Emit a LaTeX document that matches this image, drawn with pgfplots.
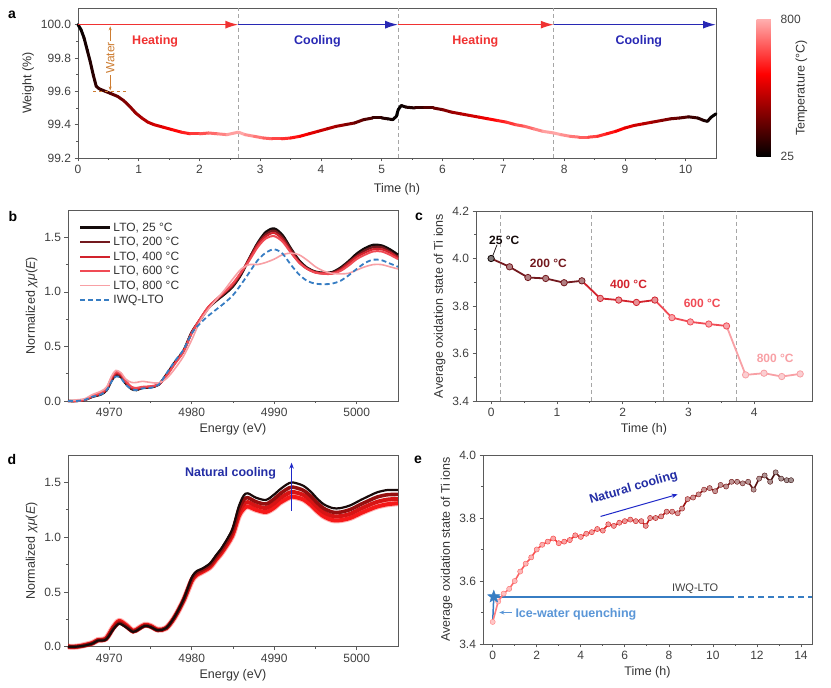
\documentclass[border=0pt]{standalone}
\usepackage{fontspec}
\setmainfont{Liberation Sans}
\usepackage{pgfplots}
\pgfplotsset{compat=1.18}
\usepackage{pgfplotstable}
\usetikzlibrary{arrows.meta}

\definecolor{axgray}{RGB}{90,90,90}
\definecolor{heatred}{RGB}{240,50,50}
\definecolor{coolblue}{RGB}{40,40,180}
\definecolor{waterc}{RGB}{205,125,50}
\definecolor{k25}{RGB}{20,10,10}
\definecolor{k200}{RGB}{115,25,30}
\definecolor{k400}{RGB}{210,35,45}
\definecolor{k600}{RGB}{240,75,85}
\definecolor{k800}{RGB}{248,160,165}
\definecolor{iwq}{RGB}{55,125,195}
\definecolor{navyc}{RGB}{35,45,165}
\definecolor{arrblue}{RGB}{30,40,200}
\definecolor{lblue}{RGB}{90,150,215}
\definecolor{dred1}{RGB}{245,25,25}
\definecolor{dred2}{RGB}{215,20,20}
\definecolor{dred3}{RGB}{150,15,15}
\definecolor{dk}{RGB}{25,10,10}

\pgfdeclareplotmark{fstar}{%
  \pgfpathmoveto{\pgfpointpolar{90}{\pgfplotmarksize}}%
  \pgfpathlineto{\pgfpointpolar{126}{0.42*\pgfplotmarksize}}%
  \pgfpathlineto{\pgfpointpolar{162}{\pgfplotmarksize}}%
  \pgfpathlineto{\pgfpointpolar{198}{0.42*\pgfplotmarksize}}%
  \pgfpathlineto{\pgfpointpolar{234}{\pgfplotmarksize}}%
  \pgfpathlineto{\pgfpointpolar{270}{0.42*\pgfplotmarksize}}%
  \pgfpathlineto{\pgfpointpolar{306}{\pgfplotmarksize}}%
  \pgfpathlineto{\pgfpointpolar{342}{0.42*\pgfplotmarksize}}%
  \pgfpathlineto{\pgfpointpolar{18}{\pgfplotmarksize}}%
  \pgfpathlineto{\pgfpointpolar{54}{0.42*\pgfplotmarksize}}%
  \pgfpathclose
  \pgfusepathqfillstroke
}

\pgfplotsset{
  panel/.style={
    scale only axis, clip=false,
    axis line style={axgray, line width=0.9pt},
    tick style={axgray, line width=0.7pt},
    tick align=outside, tick pos=left,
    major tick length=3.5pt, minor tick length=2pt,
    ticklabel style={font=\fontsize{12}{14}\selectfont, text=black!75},
    label style={font=\fontsize{12.5}{15}\selectfont, text=black!80},
    /pgf/number format/assume math mode=true,
    /pgf/number format/1000 sep={},
  },
  onedec/.style={yticklabel style={/pgf/number format/.cd, fixed, fixed zerofill, precision=1}},
}

\pgfplotstableread{
t w T
0.00 100.00 25
0.05 99.97 40
0.10 99.92 54
0.15 99.85 69
0.20 99.78 84
0.25 99.70 98
0.30 99.63 113
0.35 99.615 128
0.45 99.60 157
0.55 99.585 186
0.65 99.57 216
0.75 99.545 245
0.85 99.51 275
0.95 99.47 304
1.05 99.44 333
1.15 99.415 363
1.25 99.40 392
1.40 99.385 436
1.55 99.37 480
1.70 99.355 524
1.85 99.345 568
2.00 99.345 612
2.15 99.35 656
2.30 99.345 700
2.45 99.34 744
2.64 99.355 800
2.75 99.34 768
2.90 99.33 723
3.05 99.32 679
3.20 99.315 635
3.35 99.315 591
3.50 99.32 547
3.65 99.33 502
3.80 99.345 458
3.95 99.36 414
4.10 99.375 370
4.25 99.39 326
4.40 99.40 281
4.55 99.41 237
4.70 99.43 193
4.85 99.44 149
5.00 99.44 105
5.10 99.435 75
5.18 99.43 52
5.24 99.45 34
5.27 99.49 25
5.32 99.515 40
5.40 99.505 64
5.55 99.50 110
5.70 99.50 155
5.85 99.50 200
6.00 99.49 246
6.15 99.475 291
6.30 99.465 337
6.45 99.455 382
6.60 99.445 428
6.75 99.435 473
6.90 99.425 518
7.05 99.415 564
7.20 99.40 609
7.35 99.39 655
7.50 99.375 700
7.65 99.36 746
7.83 99.35 800
7.95 99.34 765
8.10 99.33 722
8.25 99.325 678
8.40 99.325 635
8.55 99.33 591
8.70 99.345 547
8.85 99.36 504
9.00 99.38 460
9.15 99.395 417
9.30 99.405 373
9.45 99.415 330
9.60 99.425 286
9.75 99.435 243
9.90 99.44 199
10.05 99.447 156
10.20 99.44 112
10.30 99.425 83
10.36 99.42 66
10.42 99.445 48
10.50 99.465 25
}\wdata

\pgfplotstableread{
E k25 k200 k400 k600 k800 iwq
4965 0.00 0.00 0.00 0.00 0.00 0.00
4966 0.00 0.00 0.00 0.00 0.01 0.00
4967 0.01 0.01 0.01 0.01 0.02 0.01
4968 0.04 0.04 0.045 0.05 0.06 0.04
4969 0.06 0.065 0.07 0.075 0.09 0.06
4969.7 0.10 0.105 0.11 0.12 0.13 0.10
4970.3 0.19 0.20 0.21 0.22 0.23 0.18
4970.8 0.235 0.245 0.255 0.265 0.28 0.225
4971.4 0.22 0.23 0.24 0.25 0.26 0.21
4972 0.16 0.17 0.175 0.185 0.20 0.15
4972.7 0.11 0.115 0.12 0.13 0.17 0.11
4973.3 0.10 0.105 0.11 0.12 0.17 0.10
4974 0.12 0.12 0.125 0.13 0.18 0.115
4975 0.125 0.13 0.13 0.135 0.17 0.12
4976 0.15 0.15 0.15 0.155 0.165 0.15
4977 0.25 0.245 0.24 0.235 0.21 0.26
4978 0.36 0.355 0.35 0.345 0.30 0.37
4979 0.46 0.46 0.455 0.45 0.41 0.47
4980 0.63 0.63 0.625 0.62 0.56 0.62
4981 0.74 0.745 0.75 0.75 0.73 0.71
4982 0.85 0.855 0.86 0.86 0.84 0.78
4983 0.92 0.925 0.93 0.935 0.93 0.84
4984 0.98 0.99 1.00 1.00 1.02 0.90
4985 1.05 1.06 1.07 1.08 1.12 0.97
4986 1.16 1.17 1.18 1.18 1.21 1.07
4987 1.31 1.31 1.30 1.29 1.25 1.18
4988 1.45 1.44 1.43 1.41 1.25 1.29
4989 1.55 1.53 1.51 1.49 1.27 1.36
4990 1.58 1.56 1.54 1.51 1.30 1.39
4991 1.52 1.50 1.48 1.46 1.34 1.35
4992 1.40 1.39 1.37 1.36 1.355 1.25
4993 1.29 1.28 1.27 1.27 1.34 1.16
4994 1.22 1.215 1.21 1.21 1.29 1.10
4995 1.185 1.18 1.18 1.175 1.23 1.075
4996 1.175 1.17 1.17 1.165 1.19 1.07
4997 1.18 1.175 1.17 1.165 1.17 1.075
4998 1.22 1.21 1.20 1.19 1.165 1.10
4999 1.28 1.27 1.26 1.24 1.17 1.15
5000 1.35 1.33 1.32 1.30 1.20 1.21
5001 1.40 1.38 1.36 1.34 1.23 1.265
5002 1.43 1.41 1.39 1.37 1.25 1.295
5003 1.425 1.41 1.39 1.37 1.25 1.29
5004 1.39 1.37 1.36 1.34 1.23 1.26
5005 1.34 1.32 1.31 1.30 1.21 1.23
}\bdata

\pgfplotstableread{
E r c2 c3 k
4965 0.00 0.00 0.00 0.00
4966 0.00 0.00 0.00 0.00
4967 0.015 0.012 0.01 0.01
4968 0.035 0.033 0.03 0.03
4968.6 0.06 0.058 0.056 0.055
4969.6 0.075 0.07 0.068 0.065
4970.5 0.18 0.175 0.165 0.16
4971.2 0.235 0.225 0.215 0.21
4972 0.20 0.19 0.185 0.18
4972.9 0.145 0.14 0.138 0.135
4973.6 0.17 0.165 0.162 0.16
4974.3 0.20 0.195 0.192 0.19
4975 0.19 0.185 0.182 0.18
4975.9 0.155 0.152 0.15 0.15
4976.9 0.17 0.17 0.17 0.17
4977.9 0.265 0.267 0.268 0.27
4979 0.42 0.423 0.427 0.43
4980 0.60 0.61 0.62 0.63
4980.6 0.655 0.667 0.678 0.69
4981.2 0.68 0.69 0.70 0.71
4982.2 0.725 0.737 0.748 0.76
4983 0.80 0.813 0.827 0.84
4983.7 0.865 0.88 0.895 0.91
4984.9 1.01 1.03 1.05 1.07
4985.7 1.19 1.22 1.25 1.28
4986.3 1.26 1.30 1.34 1.38
4986.8 1.28 1.32 1.36 1.40
4987.8 1.25 1.287 1.323 1.36
4989 1.23 1.267 1.303 1.34
4990 1.27 1.31 1.35 1.39
4990.6 1.31 1.35 1.39 1.43
4991.5 1.35 1.393 1.437 1.48
4992.2 1.37 1.413 1.457 1.50
4993.5 1.345 1.387 1.428 1.47
4994.5 1.29 1.33 1.37 1.41
4995.1 1.245 1.283 1.322 1.36
4996 1.19 1.227 1.263 1.30
4997.1 1.155 1.192 1.228 1.265
4998 1.155 1.192 1.228 1.265
4999.2 1.175 1.213 1.252 1.29
5000.5 1.22 1.26 1.30 1.34
5001.6 1.255 1.297 1.338 1.38
5002.5 1.28 1.323 1.367 1.41
5003.7 1.30 1.343 1.387 1.43
5005 1.31 1.35 1.39 1.43
}\ddata

\pgfplotstableread{
t y
0 3.47
0.25 3.535
0.5 3.56
0.75 3.575
1.0 3.60
1.25 3.63
1.5 3.655
1.75 3.675
2.0 3.70
2.25 3.715
2.5 3.725
2.75 3.735
3.0 3.72
3.25 3.725
3.5 3.73
3.75 3.745
4.0 3.74
4.25 3.75
4.5 3.755
4.75 3.765
5.0 3.76
5.25 3.78
5.5 3.775
5.75 3.785
6.0 3.79
6.25 3.795
6.5 3.79
6.75 3.79
6.95 3.775
7.15 3.80
7.4 3.80
7.65 3.805
7.9 3.82
8.15 3.82
8.4 3.815
8.6 3.83
8.85 3.86
9.1 3.865
9.35 3.875
9.6 3.89
9.85 3.895
10.1 3.885
10.35 3.905
10.6 3.90
10.85 3.915
11.1 3.915
11.35 3.91
11.6 3.915
11.85 3.89
12.1 3.925
12.35 3.935
12.6 3.915
12.85 3.945
13.1 3.925
13.35 3.92
13.55 3.92
}\edata

\begin{document}
\begin{tikzpicture}
\path[use as bounding box] (0pt,0pt) rectangle (831pt,688pt);

% ---------------- panel a ----------------
\begin{axis}[panel, at={(78pt,530pt)}, anchor=south west, width=638pt, height=150pt,
  xmin=0, xmax=10.5, ymin=99.2, ymax=100.1,
  xtick={0,1,2,3,4,5,6,7,8,9,10}, minor x tick num=1,
  ytick={99.2,99.4,99.6,99.8,100.0}, minor y tick num=1, onedec,
  xlabel={Time (h)}, ylabel={Weight (\%)},
  xlabel style={yshift=-3pt},
  colormap={tempmap}{rgb255(0cm)=(0,0,0); rgb255(6cm)=(255,0,0); rgb255(10cm)=(255,175,175)},
  point meta min=25, point meta max=800,
  colorbar,
  colorbar style={
    at={(parent axis.north east)}, anchor=north west, xshift=32pt, yshift=-11pt,
    scale only axis, width=20.6pt, height=137.7pt,
    ytick={25,800}, axis line style={draw=none}, major tick length=0pt,
    yticklabel style={font=\fontsize{12}{14}\selectfont, text=black!75},
    /pgf/number format/assume math mode=true,
    ylabel={Temperature (°C)},
    ylabel style={font=\fontsize{12.5}{15}\selectfont, text=black!80, yshift=12pt},
  },
]
\draw[gray!70, dashed, line width=0.8pt, dash pattern=on 4pt off 3pt] (axis cs:2.64,99.2) -- (axis cs:2.64,100.1);
\draw[gray!70, dashed, line width=0.8pt, dash pattern=on 4pt off 3pt] (axis cs:5.27,99.2) -- (axis cs:5.27,100.1);
\draw[gray!70, dashed, line width=0.8pt, dash pattern=on 4pt off 3pt] (axis cs:7.83,99.2) -- (axis cs:7.83,100.1);
\addplot[mesh, line width=3pt, line cap=round, point meta=\thisrow{T}] table[x=t, y=w] {\wdata};
\draw[heatred, line width=1.5pt, -{Latex[length=13pt,width=8pt]}] (axis cs:0,100) -- (axis cs:2.64,100);
\draw[coolblue, line width=1.5pt, -{Latex[length=13pt,width=8pt]}] (axis cs:2.64,100) -- (axis cs:5.27,100);
\draw[heatred, line width=1.5pt, -{Latex[length=13pt,width=8pt]}] (axis cs:5.27,100) -- (axis cs:7.83,100);
\draw[coolblue, line width=1.5pt, -{Latex[length=13pt,width=8pt]}] (axis cs:7.83,100) -- (axis cs:10.5,100);
\node[heatred, font=\bfseries\fontsize{12.5}{15}\selectfont] at (axis cs:1.27,99.9) {Heating};
\node[coolblue, font=\bfseries\fontsize{12.5}{15}\selectfont] at (axis cs:3.94,99.9) {Cooling};
\node[heatred, font=\bfseries\fontsize{12.5}{15}\selectfont] at (axis cs:6.54,99.9) {Heating};
\node[coolblue, font=\bfseries\fontsize{12.5}{15}\selectfont] at (axis cs:9.23,99.9) {Cooling};
\draw[waterc, line width=0.8pt, dashed] (axis cs:0.25,99.6) -- (axis cs:0.8,99.6);
\draw[waterc, line width=0.8pt, {Stealth[length=4pt]}-{Stealth[length=4pt]}] (axis cs:0.53,99.605) -- (axis cs:0.53,99.99);
\node[waterc, rotate=90, fill=white, inner sep=1pt, font=\fontsize{12}{14}\selectfont] at (axis cs:0.53,99.8) {Water};
\end{axis}

% ---------------- panel b ----------------
\begin{axis}[panel, at={(68pt,287pt)}, anchor=south west, width=330pt, height=191pt,
  xmin=4965, xmax=5005, ymin=0, ymax=1.75,
  xtick={4970,4980,4990,5000}, minor x tick num=1,
  ytick={0,0.5,1,1.5}, minor y tick num=1, onedec,
  xlabel={Energy (eV)}, ylabel={Normalized \textit{χμ}(\textit{E})},
  legend style={at={(0.03,0.95)}, anchor=north west, draw=none, fill=none,
    font=\fontsize{12}{13}\selectfont, text=black!80, row sep=0.6pt, inner sep=1pt},
  legend cell align=left,
  legend image code/.code={\draw[#1] (0pt,0pt) -- (30pt,0pt);},
]
\addplot[k25, line width=2.4pt, smooth] table[x=E, y=k25] {\bdata};
\addlegendentry{LTO, 25 °C}
\addplot[k200, line width=2.3pt, smooth] table[x=E, y=k200] {\bdata};
\addlegendentry{LTO, 200 °C}
\addplot[k400, line width=2.1pt, smooth] table[x=E, y=k400] {\bdata};
\addlegendentry{LTO, 400 °C}
\addplot[k600, line width=2pt, smooth] table[x=E, y=k600] {\bdata};
\addlegendentry{LTO, 600 °C}
\addplot[k800, line width=1.6pt, smooth] table[x=E, y=k800] {\bdata};
\addlegendentry{LTO, 800 °C}
\addplot[iwq, line width=1.8pt, dash pattern=on 5pt off 3pt, smooth] table[x=E, y=iwq] {\bdata};
\addlegendentry{IWQ-LTO}
\end{axis}

% ---------------- panel c ----------------
\begin{axis}[panel, at={(476pt,287pt)}, anchor=south west, width=336pt, height=190pt,
  xmin=-0.23, xmax=4.88, ymin=3.4, ymax=4.2,
  xtick={0,1,2,3,4}, minor x tick num=1,
  ytick={3.4,3.6,3.8,4.0,4.2}, minor y tick num=1, onedec,
  xlabel={Time (h)}, ylabel={Average oxidation state of Ti ions},
]
\foreach \xv in {0.137,1.52,2.62,3.73}{
  \edef\tmp{\noexpand\draw[gray!70, line width=0.8pt, dash pattern=on 4pt off 3pt] (axis cs:\xv,3.4) -- (axis cs:\xv,4.2);}\tmp
}
\addplot[k200, line width=1.8pt] coordinates {(0,4.0) (0.28,3.965) (0.56,3.92) (0.83,3.916) (1.11,3.898) (1.38,3.906)};
\addplot[k400, line width=1.8pt] coordinates {(1.38,3.906) (1.66,3.832) (1.94,3.825) (2.21,3.815) (2.49,3.825)};
\addplot[k600, line width=1.8pt] coordinates {(2.49,3.825) (2.75,3.751) (3.03,3.733) (3.31,3.724) (3.58,3.716)};
\addplot[k800, line width=1.8pt] coordinates {(3.58,3.716) (3.87,3.51) (4.15,3.517) (4.42,3.503) (4.70,3.514)};
\addplot[only marks, mark=*, mark size=3.2pt, mark options={draw=k25, fill=k25!55!white, line width=0.8pt}] coordinates {(0,4.0)};
\addplot[only marks, mark=*, mark size=3.2pt, mark options={draw=k200, fill=k200!55!white, line width=0.8pt}] coordinates {(0.28,3.965) (0.56,3.92) (0.83,3.916) (1.11,3.898) (1.38,3.906)};
\addplot[only marks, mark=*, mark size=3.2pt, mark options={draw=k400, fill=k400!50!white, line width=0.8pt}] coordinates {(1.66,3.832) (1.94,3.825) (2.21,3.815) (2.49,3.825)};
\addplot[only marks, mark=*, mark size=3.2pt, mark options={draw=k600, fill=k600!50!white, line width=0.8pt}] coordinates {(2.75,3.751) (3.03,3.733) (3.31,3.724) (3.58,3.716)};
\addplot[only marks, mark=*, mark size=3.2pt, mark options={draw=k800, fill=k800!50!white, line width=0.8pt}] coordinates {(3.87,3.51) (4.15,3.517) (4.42,3.503) (4.70,3.514)};
\draw[k25, line width=0.7pt] (axis cs:0.09,4.058) -- (axis cs:0.02,4.008);
\node[k25, font=\bfseries\fontsize{12}{14}\selectfont] at (axis cs:0.2,4.077) {25 °C};
\node[k200, font=\bfseries\fontsize{12}{14}\selectfont] at (axis cs:0.87,3.98) {200 °C};
\node[k400, font=\bfseries\fontsize{12}{14}\selectfont] at (axis cs:2.09,3.89) {400 °C};
\node[k600, font=\bfseries\fontsize{12}{14}\selectfont] at (axis cs:3.21,3.81) {600 °C};
\node[k800, font=\bfseries\fontsize{12}{14}\selectfont] at (axis cs:4.32,3.58) {800 °C};
\end{axis}

% ---------------- panel d ----------------
\begin{axis}[panel, at={(68pt,41.3pt)}, anchor=south west, width=330pt, height=191.7pt,
  xmin=4965, xmax=5005, ymin=0, ymax=1.75,
  xtick={4970,4980,4990,5000}, minor x tick num=1,
  ytick={0,0.5,1,1.5}, minor y tick num=1, onedec,
  xlabel={Energy (eV)}, ylabel={Normalized \textit{χμ}(\textit{E})},
]
\addplot[red, line width=6pt, opacity=0.3, smooth] table[x=E, y=r] {\ddata};
\addplot[dred1, line width=4pt, smooth] table[x=E, y=r] {\ddata};
\addplot[dred2, line width=4pt, smooth] table[x=E, y=c2] {\ddata};
\addplot[dred3, line width=3.6pt, smooth] table[x=E, y=c3] {\ddata};
\addplot[dk, line width=2.2pt, smooth] table[x=E, y=k] {\ddata};
\draw[arrblue, line width=1.1pt, -{Stealth[length=6pt,width=4.5pt]}] (axis cs:4992.1,1.24) -- (axis cs:4992.1,1.68);
\node[navyc, font=\bfseries\fontsize{12.5}{15}\selectfont] at (axis cs:4984.7,1.58) {Natural cooling};
\end{axis}

% ---------------- panel e ----------------
\begin{axis}[panel, at={(483pt,44pt)}, anchor=south west, width=329pt, height=189pt,
  xmin=-0.44, xmax=14.5, ymin=3.4, ymax=4.0,
  xtick={0,2,4,6,8,10,12,14}, minor x tick num=1,
  ytick={3.4,3.6,3.8,4.0}, minor y tick num=1, onedec,
  xlabel={Time (h)}, ylabel={Average oxidation state of Ti ions},
  colormap={emap}{rgb255(0cm)=(255,130,130); rgb255(3cm)=(245,50,50); rgb255(6cm)=(215,25,25); rgb255(9cm)=(150,20,20); rgb255(13.6cm)=(55,15,15)},
  point meta min=0, point meta max=13.6,
]
\addplot[iwq, line width=2pt] coordinates {(0.05,3.55) (10.7,3.55)};
\addplot[iwq, line width=2pt, dash pattern=on 6pt off 4pt] coordinates {(10.7,3.55) (14.5,3.55)};
\addplot[iwq, line width=1.5pt] coordinates {(0,3.47) (0.05,3.55)};
\addplot[mesh, line width=1.6pt, line cap=round, point meta=x] table[x=t, y=y] {\edata};
\addplot[scatter, only marks, mark=*, mark size=2.6pt, point meta=x,
  scatter/use mapped color={draw=mapped color, fill=mapped color!45!white}] table[x=t, y=y] {\edata};
\addplot[only marks, mark=fstar, mark size=6.5pt, mark options={fill=iwq, draw=iwq}] coordinates {(0.05,3.55)};
\node[black!75, font=\fontsize{11}{13}\selectfont] at (axis cs:9.19,3.577) {IWQ-LTO};
\draw[lblue, line width=1pt, -{Stealth[length=5pt,width=4pt]}] (axis cs:0.86,3.5) -- (axis cs:0.3,3.5);
\node[lblue, font=\bfseries\fontsize{12.5}{15}\selectfont] at (axis cs:3.78,3.495) {Ice-water quenching};
\draw[arrblue, line width=1pt, -{Stealth[length=6pt,width=4.5pt]}] (axis cs:4.9,3.805) -- (axis cs:8.4,3.875);
\node[navyc, rotate=16, inner sep=0pt, font=\bfseries\fontsize{12.5}{15}\selectfont] at (axis cs:6.4,3.895) {Natural cooling};
\end{axis}

% panel letters
\node[font=\bfseries\fontsize{14}{16}\selectfont] at (12pt,673pt) {a};
\node[font=\bfseries\fontsize{14}{16}\selectfont] at (13pt,471pt) {b};
\node[font=\bfseries\fontsize{14}{16}\selectfont] at (419pt,471pt) {c};
\node[font=\bfseries\fontsize{14}{16}\selectfont] at (12pt,228pt) {d};
\node[font=\bfseries\fontsize{14}{16}\selectfont] at (418pt,228pt) {e};
\end{tikzpicture}
\end{document}
